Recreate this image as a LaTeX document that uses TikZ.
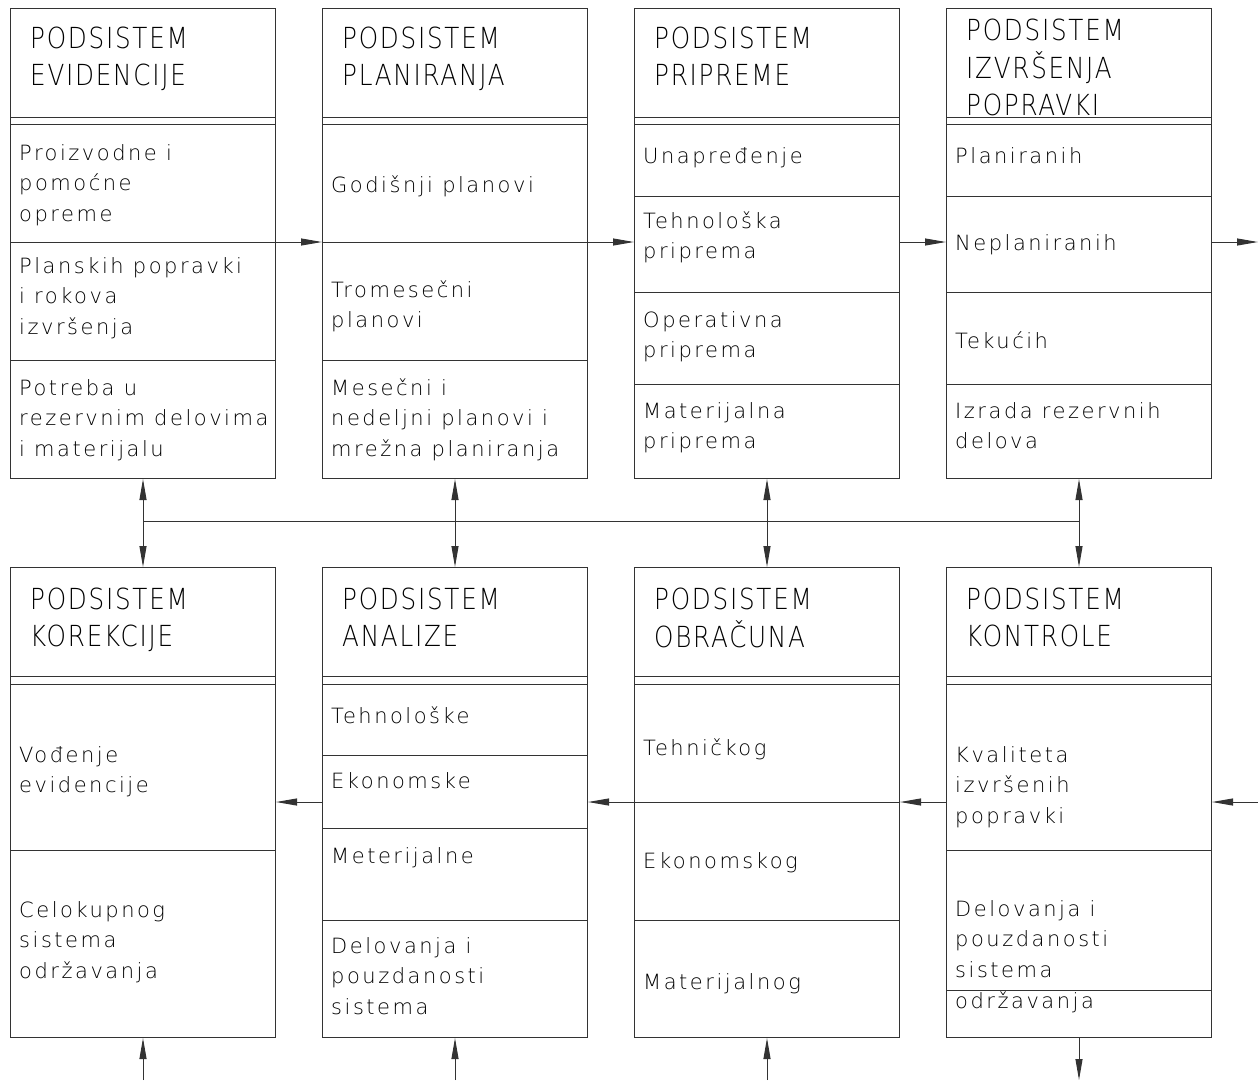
\documentclass[tikz,border=0pt]{standalone}
\usepackage{fontspec}
\usepackage{tikz}
\usetikzlibrary{arrows.meta,calc,positioning}
\setmainfont{DejaVu Sans}
\newfontfamily\cadhead{DejaVuSans-ExtraLight.ttf}[LetterSpace=6,FakeStretch=0.85]
\newfontfamily\caditem{DejaVuSans-ExtraLight.ttf}[LetterSpace=12]
\newcommand\headfont{\cadhead\fontsize{29}{37}\selectfont}
\newcommand\itemfont{\caditem\fontsize{21}{30.7}\selectfont}
\newcommand\lines[1]{\begin{tabular}[t]{@{}l@{}}#1\end{tabular}}

\begin{document}
\begin{tikzpicture}[x=1pt,y=-1pt,
  sbox/.style={draw=black!80,line width=1pt,minimum width=265pt,minimum height=470pt,anchor=north west,inner sep=0pt},
  head/.style={anchor=base west,inner sep=0pt,font=\headfont},
  item/.style={anchor=base west,inner sep=0pt,font=\itemfont},
  conn/.style={draw=black!80,line width=1pt},
  tip/.style={-{Triangle[length=21pt,width=7pt]}}]
\useasboundingbox (0,0) rectangle (1258,1080);
% boxes
\node[sbox] (evid) at (10,8) {};
\node[sbox] (plan) at (322,8) {};
\node[sbox] (prip) at (634,8) {};
\node[sbox] (izvr) at (946,8) {};
\node[sbox] (korek) at (10,567) {};
\node[sbox] (anal) at (322,567) {};
\node[sbox] (obrac) at (634,567) {};
\node[sbox] (kont) at (946,567) {};
% double line under the titles
\foreach \b in {evid,plan,prip,izvr} {
  \draw[conn] (\b.west |- 0,117) -- (\b.east |- 0,117);
  \draw[conn] (\b.west |- 0,124) -- (\b.east |- 0,124);
}
\foreach \b in {korek,anal,obrac,kont} {
  \draw[conn] (\b.west |- 0,676) -- (\b.east |- 0,676);
  \draw[conn] (\b.west |- 0,684) -- (\b.east |- 0,684);
}
% rows
\foreach \b/\y in {evid/242,evid/360,plan/242,plan/360,prip/196,prip/292,prip/384,izvr/196,izvr/292,izvr/384,
  korek/850,anal/755,anal/828,anal/920,obrac/802,obrac/920,kont/850,kont/990}
  \draw[conn] (\b.west |- 0,\y) -- (\b.east |- 0,\y);
% texts
\node[head] (evid-h) at (30,48) {\lines{PODSISTEM\\EVIDENCIJE}};
\node[item] (evid-1) at (19,160) {\lines{Proizvodne i\\pomoćne\\opreme}};
\node[item] (evid-2) at (19,273) {\lines{Planskih popravki\\i rokova\\izvršenja}};
\node[item] (evid-3) at (19,395) {\lines{Potreba u\\rezervnim delovima\\i materijalu}};
\node[head] (plan-h) at (342,48) {\lines{PODSISTEM\\PLANIRANJA}};
\node[item] (plan-1) at (331,192) {\lines{Godišnji planovi}};
\node[item] (plan-2) at (331,297) {\lines{Tromesečni\\planovi}};
\node[item] (plan-3) at (331,395) {\lines{Mesečni i\\nedeljni planovi i\\mrežna planiranja}};
\node[head] (prip-h) at (654,48) {\lines{PODSISTEM\\PRIPREME}};
\node[item] (prip-1) at (643,163) {\lines{Unapređenje}};
\node[item] (prip-2) at (643,228) {\lines{Tehnološka\\priprema}};
\node[item] (prip-3) at (643,327) {\lines{Operativna\\priprema}};
\node[item] (prip-4) at (643,418) {\lines{Materijalna\\priprema}};
\node[head] (izvr-h) at (966,40) {\lines{PODSISTEM\\IZVRŠENJA\\POPRAVKI}};
\node[item] (izvr-1) at (955,163) {\lines{Planiranih}};
\node[item] (izvr-2) at (955,250) {\lines{Neplaniranih}};
\node[item] (izvr-3) at (955,348) {\lines{Tekućih}};
\node[item] (izvr-4) at (955,418) {\lines{Izrada rezervnih\\delova}};
\node[head] (korek-h) at (30,609) {\lines{PODSISTEM\\KOREKCIJE}};
\node[item] (korek-1) at (19,762) {\lines{Vođenje\\evidencije}};
\node[item] (korek-2) at (19,917) {\lines{Celokupnog\\sistema\\održavanja}};
\node[head] (anal-h) at (342,609) {\lines{PODSISTEM\\ANALIZE}};
\node[item] (anal-1) at (331,723) {\lines{Tehnološke}};
\node[item] (anal-2) at (331,788) {\lines{Ekonomske}};
\node[item] (anal-3) at (331,863) {\lines{Meterijalne}};
\node[item] (anal-4) at (331,953) {\lines{Delovanja i\\pouzdanosti\\sistema}};
\node[head] (obrac-h) at (654,609) {\lines{PODSISTEM\\OBRAČUNA}};
\node[item] (obrac-1) at (643,755) {\lines{Tehničkog}};
\node[item] (obrac-2) at (643,868) {\lines{Ekonomskog}};
\node[item] (obrac-3) at (643,989) {\lines{Materijalnog}};
\node[head] (kont-h) at (966,609) {\lines{PODSISTEM\\KONTROLE}};
\node[item] (kont-1) at (955,762) {\lines{Kvaliteta\\izvršenih\\popravki}};
\node[item] (kont-2) at (955,916) {\lines{Delovanja i\\pouzdanosti\\sistema\\održavanja}};
% flow along the rows
\coordinate (out) at (1258,242);
\coordinate (in) at (1258,802);
\draw[conn,tip] (evid.east |- out) -- (plan.west |- out);
\draw[conn,tip] (plan.east |- out) -- (prip.west |- out);
\draw[conn,tip] (prip.east |- out) -- (izvr.west |- out);
\draw[conn,tip] (izvr.east |- out) -- (out);
\draw[conn,tip] (in) -- (kont.east |- in);
\draw[conn,tip] (kont.west |- in) -- (obrac.east |- in);
\draw[conn,tip] (obrac.west |- in) -- (anal.east |- in);
\draw[conn,tip] (anal.west |- in) -- (korek.east |- in);
% bus between the rows
\coordinate (bus) at (0,521);
\draw[conn] (evid.south |- bus) -- (izvr.south |- bus);
\foreach \t/\b in {evid/korek,plan/anal,prip/obrac,izvr/kont} {
  \draw[conn,tip] (\t.south |- bus) -- (\t.south);
  \draw[conn,tip] (\t.south |- bus) -- (\b.north);
}
% bottom
\coordinate (bot) at (0,1080);
\draw[conn,tip] (korek.south |- bot) -- (korek.south);
\draw[conn,tip] (anal.south |- bot) -- (anal.south);
\draw[conn,tip] (obrac.south |- bot) -- (obrac.south);
\draw[conn,tip] (kont.south) -- (kont.south |- bot);
\end{tikzpicture}
\end{document}
